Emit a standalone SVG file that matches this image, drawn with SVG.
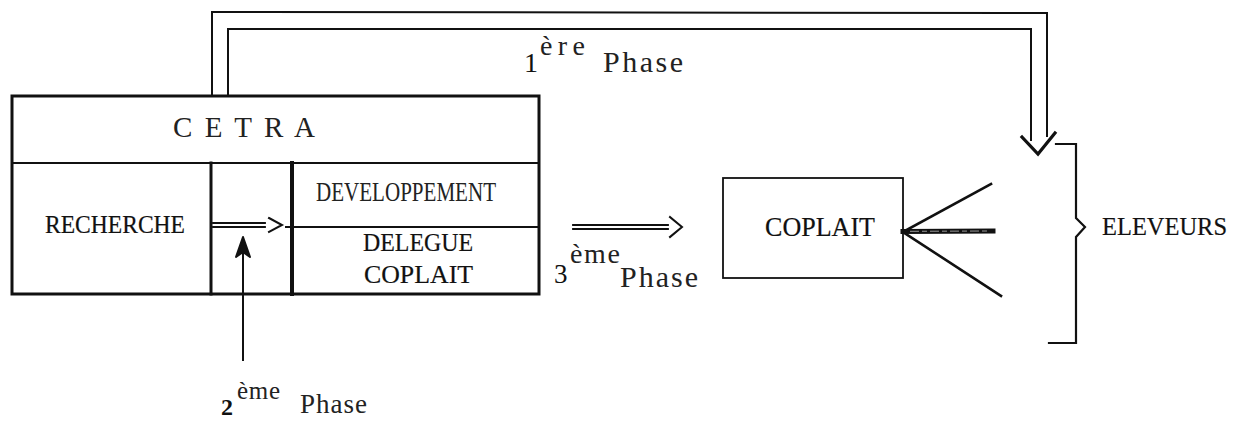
<svg xmlns="http://www.w3.org/2000/svg" width="1246" height="421" viewBox="0 0 1246 421">
<style>
  .ln { fill: none; stroke: #111; stroke-linecap: square; stroke-linejoin: miter; }
  .serif { font-family: "Liberation Serif", "DejaVu Serif", serif; fill: #111; }
  .heavy { stroke: #111; stroke-width: 0.2; }
  .thin { font-family: "Liberation Serif", "DejaVu Serif", serif; fill: #222; }
</style>
<rect width="1246" height="421" fill="#ffffff"/>

<g id="node-cetra">
  <rect x="12" y="96" width="527" height="198" class="ln" stroke-width="3"/>
  <line x1="12" y1="163" x2="539" y2="163" class="ln" stroke-width="2"/>
  <line x1="211" y1="163" x2="211" y2="294" class="ln" stroke-width="3"/>
  <line x1="292" y1="163" x2="292" y2="294" class="ln" stroke-width="4"/>
  <line x1="286" y1="227" x2="539" y2="227" class="ln" stroke-width="2"/>
  <text x="173" y="137" class="thin" font-size="29" textLength="142" lengthAdjust="spacing">C E T R A</text>
  <text x="45" y="233" class="serif heavy" font-size="25" textLength="140" lengthAdjust="spacingAndGlyphs">RECHERCHE</text>
  <text x="316" y="201" class="thin" font-size="28" textLength="180" lengthAdjust="spacingAndGlyphs">DEVELOPPEMENT</text>
  <text x="363" y="251" class="serif heavy" font-size="26" textLength="110" lengthAdjust="spacingAndGlyphs">DELEGUE</text>
  <text x="364" y="283" class="serif heavy" font-size="26" textLength="109" lengthAdjust="spacingAndGlyphs">COPLAIT</text>
</g>

<g id="node-coplait">
  <rect x="723" y="178" width="180" height="100" class="ln" stroke-width="1.8"/>
  <text x="765" y="236" class="serif heavy" font-size="27" textLength="110" lengthAdjust="spacingAndGlyphs">COPLAIT</text>
</g>

<g id="node-eleveurs">
  <path d="M1056,144 L1076,144 L1076,218 L1085,227 L1076,237 L1076,343 L1049,343" class="ln" stroke-width="2.2"/>
  <text x="1102" y="235" class="serif heavy" font-size="26" textLength="125" lengthAdjust="spacingAndGlyphs">ELEVEURS</text>
</g>

<g id="connectors">
  <!-- 1ère phase : double line from CETRA to ELEVEURS -->
  <path d="M212,95 L212,12 L1047,13 L1047,136" class="ln" stroke-width="2"/>
  <path d="M228,95 L228,29 L1031,29 L1031,140" class="ln" stroke-width="2"/>
  <polyline points="1022,137 1038,154 1055,133" class="ln" stroke-width="3.2" stroke-linecap="round"/>
  <!-- 2ème phase : double arrow inside CETRA -->
  <line x1="213" y1="223" x2="265" y2="223" class="ln" stroke-width="1.8" stroke-linecap="butt"/>
  <line x1="213" y1="227" x2="265" y2="227" class="ln" stroke-width="1.8" stroke-linecap="butt"/>
  <polyline points="269,218 282,225 269,232" class="ln" stroke-width="2"/>
  <!-- upward arrow from 2ème phase label -->
  <line x1="243" y1="360" x2="243" y2="252" class="ln" stroke-width="2"/>
  <path d="M243,237 L250,257 L243,252 L236,257 Z" fill="#111" stroke="#111" stroke-width="2" stroke-linejoin="round"/>
  <!-- 3ème phase : double arrow to COPLAIT -->
  <line x1="573" y1="225" x2="668" y2="225" class="ln" stroke-width="1.8" stroke-linecap="butt"/>
  <line x1="573" y1="229" x2="668" y2="229" class="ln" stroke-width="1.8" stroke-linecap="butt"/>
  <polyline points="670,217 682,227 670,237" class="ln" stroke-width="2"/>
  <!-- fan from ELEVEURS to COPLAIT -->
  <line x1="903" y1="232" x2="991" y2="184" class="ln" stroke-width="2.6"/>
  <line x1="903" y1="232" x2="1001" y2="296" class="ln" stroke-width="2.6"/>
  <line x1="903" y1="231.5" x2="993" y2="231" class="ln" stroke-width="5" stroke-linecap="butt"/>
  <line x1="910" y1="231.3" x2="990" y2="231" stroke="#9a9a9a" stroke-width="1" stroke-dasharray="9 3 5 3"/>
</g>

<g id="labels">
  <text x="524" y="72" class="serif" font-size="28">1</text>
  <text x="540" y="55" class="thin" font-size="28" textLength="45" lengthAdjust="spacing">ère</text>
  <text x="603" y="72" class="thin" font-size="30" textLength="80" lengthAdjust="spacing">Phase</text>

  <text x="221" y="415" class="serif" font-size="24" font-weight="bold">2</text>
  <text x="237" y="399" class="thin" font-size="25" textLength="43" lengthAdjust="spacing">ème</text>
  <text x="300" y="413" class="thin" font-size="27" textLength="67" lengthAdjust="spacing">Phase</text>

  <text x="554" y="283" class="serif" font-size="27">3</text>
  <text x="570" y="263" class="thin" font-size="28" textLength="50" lengthAdjust="spacing">ème</text>
  <text x="620" y="287" class="thin" font-size="30" textLength="78" lengthAdjust="spacing">Phase</text>
</g>
</svg>
